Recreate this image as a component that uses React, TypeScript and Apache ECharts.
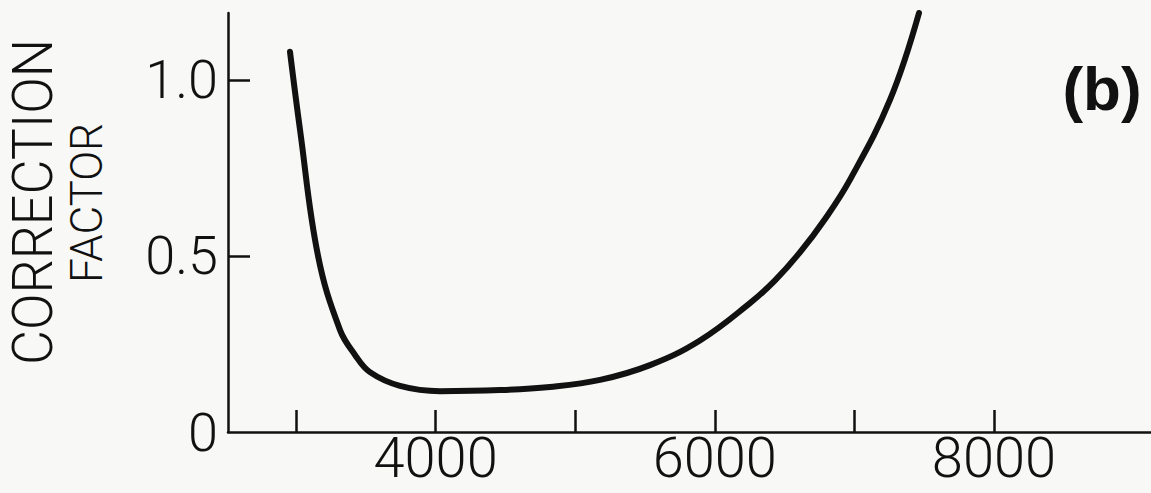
import React, { useEffect, useRef } from "react";
import * as echarts from "echarts";

// Wavelength (x) and correction factor (y)
const wavelength = [2957, 3029, 3158, 3315, 3423, 3530, 3745, 4032, 4461, 4819, 5178, 5536, 5894, 6252, 6430, 6610, 6790, 6968, 7255, 7463];
const correction = [1.08, 0.858, 0.5, 0.29, 0.219, 0.17, 0.131, 0.116, 0.119, 0.128, 0.148, 0.19, 0.26, 0.366, 0.43, 0.51, 0.605, 0.716, 0.943, 1.19];

const xTicks = [3000, 4000, 5000, 6000, 7000, 8000];
const xLabels = [4000, 6000, 8000];
const yTicks = [0.5, 1.0];
const yLabels = [0, 0.5, 1.0];
const yLabelText: Record<string, string> = { "0": "0", "0.5": "0.5", "1": "1.0" };

const yNameLines = ["CORRECTION", "FACTOR"];
const panelLabel = "(b)";

const INK = "#111111";
const FONT = "Roboto, 'Liberation Sans', sans-serif";

export default function App() {
  const ref = useRef<HTMLDivElement>(null);

  useEffect(() => {
    if (!ref.current) return;
    const chart = echarts.init(ref.current, undefined, { renderer: "svg" });
    const data = wavelength.map((w, i) => [w, correction[i]]);
    chart.setOption({
      animation: false,
      backgroundColor: "#f8f8f6",
      grid: { left: 228, right: 0, top: 13, bottom: 61, containLabel: false },
      xAxis: {
        type: "value",
        min: 2513,
        max: 9125,
        axisLine: { show: true, lineStyle: { color: INK, width: 2.5 } },
        axisTick: { show: true, inside: true, length: 22, customValues: xTicks, lineStyle: { color: INK, width: 2.5 } },
        axisLabel: {
          show: true,
          customValues: xLabels,
          margin: 3,
          color: INK,
          fontSize: 56,
          lineHeight: 46,
          fontWeight: 300,
          fontFamily: FONT,
          formatter: (v: number) => String(v),
        },
        splitLine: { show: false },
      },
      yAxis: {
        type: "value",
        min: 0,
        max: 1.19,
        axisLine: { show: true, lineStyle: { color: INK, width: 2.5 } },
        axisTick: { show: true, inside: true, length: 22, customValues: yTicks, lineStyle: { color: INK, width: 2.5 } },
        axisLabel: {
          show: true,
          customValues: yLabels,
          margin: 10,
          color: INK,
          fontSize: 54,
          fontWeight: 300,
          fontFamily: FONT,
          formatter: (v: number) => yLabelText[String(v)] ?? "",
        },
        splitLine: { show: false },
      },
      graphic: [
        {
          type: "text",
          x: 33,
          y: 202,
          rotation: Math.PI / 2,
          scaleX: 0.98,
          style: {
            text: yNameLines[0],
            fill: INK,
            fontSize: 55,
            fontWeight: 300,
            fontFamily: FONT,
            align: "center",
            verticalAlign: "middle",
          },
        },
        {
          type: "text",
          x: 87,
          y: 203,
          rotation: Math.PI / 2,
          scaleX: 0.98,
          style: {
            text: yNameLines[1],
            fill: INK,
            fontSize: 45,
            fontWeight: 300,
            fontFamily: FONT,
            align: "center",
            verticalAlign: "middle",
          },
        },
        {
          type: "text",
          x: 1102,
          y: 88,
          style: {
            text: panelLabel,
            fill: INK,
            fontSize: 62,
            fontWeight: "bold",
            fontFamily: "'Liberation Sans', sans-serif",
            align: "center",
            verticalAlign: "middle",
          },
        },
      ],
      series: [
        {
          type: "line",
          data,
          smooth: 0.4,
          symbol: "none",
          clip: false,
          lineStyle: { color: INK, width: 6, cap: "round", join: "round" },
        },
      ],
    });
    return () => chart.dispose();
  }, []);

  return (
    <div
      ref={ref}
      style={{ position: "fixed", left: 0, top: 0, width: 1151, height: 493 }}
    />
  );
}
